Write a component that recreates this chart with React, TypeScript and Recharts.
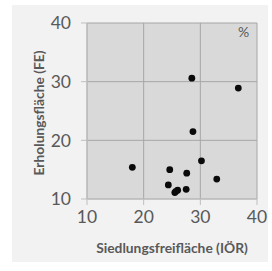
import React from 'react';
import { ScatterChart, Scatter, XAxis, YAxis, CartesianGrid, Label } from 'recharts';

const xValues = [18.0, 28.5, 36.7, 28.7, 30.2, 32.9, 24.6, 27.6, 24.35, 27.5, 26.0, 25.5, 25.7];
const yValues = [15.4, 30.6, 28.9, 21.5, 16.5, 13.4, 15.0, 14.4, 12.4, 11.65, 11.5, 11.1, 11.3];
const xTicks = [10, 20, 30, 40];
const yTicks = [10, 20, 30, 40];
const xTitle = 'Siedlungsfreifläche (IÖR)';
const yTitle = 'Erholungsfläche (FE)';
const unitLabel = '%';

const data = xValues.map((x, i) => ({ x, y: yValues[i] }));

const FONT = 'Lato, "Open Sans", sans-serif';
const TXT = '#595959';

const Dot = (props: any) => <circle cx={props.cx} cy={props.cy} r={3.4} fill="#0a0a0a" />;

export default function App() {
  return (
    <div style={{ position: 'fixed', left: 0, top: 0, width: 272, height: 271, background: '#fff' }}>
      <div style={{ position: 'absolute', left: 12, top: 5, width: 256, height: 257, background: '#f2f2f2' }} />
      <div style={{ position: 'absolute', left: 0, top: 0 }}>
        <ScatterChart width={272} height={271} margin={{ top: 23, right: 15, bottom: 0, left: 0 }}>
          <CartesianGrid fill="#d9d9d9" stroke="#a6a6a6" strokeWidth={1} />
          <XAxis
            type="number"
            dataKey="x"
            domain={[10, 40]}
            ticks={xTicks}
            height={72}
            axisLine={{ stroke: '#bfbfbf' }}
            tickLine={{ stroke: '#bfbfbf' }}
            tickSize={6}
            tick={{ fill: TXT, fontSize: 17.5, fontFamily: FONT }}
            tickMargin={6}
          >
            <Label
              content={(p: any) => {
                const vb = p.viewBox;
                return (
                  <text x={vb.x + vb.width / 2} y={253} textAnchor="middle" fill={TXT} fontSize={13.8} fontWeight="bold" fontFamily={FONT}>
                    {xTitle}
                  </text>
                );
              }}
            />
          </XAxis>
          <YAxis
            type="number"
            dataKey="y"
            domain={[10, 40]}
            ticks={yTicks}
            width={87}
            axisLine={{ stroke: '#bfbfbf' }}
            tickLine={{ stroke: '#bfbfbf' }}
            tickSize={6}
            tick={{ fill: TXT, fontSize: 17.5, fontFamily: FONT }}
            tickMargin={10}
          >
            <Label
              content={(p: any) => {
                const vb = p.viewBox;
                const cy = vb.y + vb.height / 2 + 2;
                return (
                  <text x={38} y={cy} transform={`rotate(-90, 38, ${cy})`} textAnchor="middle" dominantBaseline="central" fill={TXT} fontSize={13.8} fontWeight="bold" fontFamily={FONT}>
                    {yTitle}
                  </text>
                );
              }}
            />
          </YAxis>
          <Scatter data={data} shape={Dot} isAnimationActive={false} />
        </ScatterChart>
      </div>
      <div style={{ position: 'absolute', left: 238, top: 24, fontFamily: FONT, fontSize: 14, color: TXT, lineHeight: '16px' }}>{unitLabel}</div>
    </div>
  );
}
